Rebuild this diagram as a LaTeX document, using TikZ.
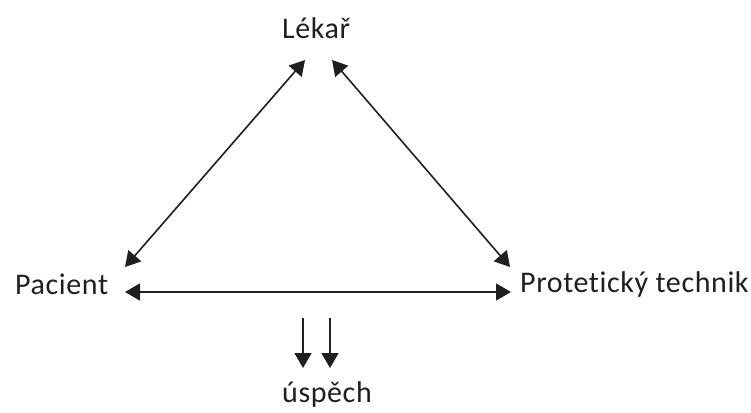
\documentclass[tikz,border=0pt]{standalone}
\usepackage{fontspec}
\setmainfont{Carlito}[Ligatures={NoCommon}, LetterSpace=2.0]
\usetikzlibrary{arrows.meta}
\definecolor{ink}{gray}{0.12}
\tikzset{
  label/.style={inner sep=0pt, text=ink, font=\fontsize{30}{36}\selectfont},
  link/.style={draw=ink, line width=1.6pt, {Triangle[length=15pt,width=17pt]}-{Triangle[length=15pt,width=17pt]}},
  flow/.style={draw=ink, line width=1.6pt, -{Triangle[length=15pt,width=17pt]}}
}
\begin{document}
\begin{tikzpicture}[x=1pt, y=-1pt]
  \useasboundingbox (0,0) rectangle (751,412);

  % the three parties
  \node[label, anchor=base west] (lekar) at (282,39) {Lékař};
  \node[label, anchor=base west] (pacient) at (15,294) {Pacient};
  \node[label, anchor=base west] (technik) at (520,292) {Protetický technik};
  \node[label, anchor=base west] (uspech) at (282,402) {úspěch};

  % arrow ends around the labels
  \coordinate (lekarL) at (305,60);
  \coordinate (lekarR) at (332,60);
  \coordinate (pacientT) at (125,267);
  \coordinate (pacientR) at (125,292);
  \coordinate (technikT) at (510,267);
  \coordinate (technikL) at (511,292);
  \coordinate (downAs) at (303,318);
  \coordinate (downAe) at (303,368);
  \coordinate (downBs) at (330,318);
  \coordinate (downBe) at (330,368);

  % mutual relations
  \draw[link] (lekarL) -- (pacientT);
  \draw[link] (lekarR) -- (technikT);
  \draw[link] (pacientR) -- (technikL);

  % the outcome
  \draw[flow] (downAs) -- (downAe);
  \draw[flow] (downBs) -- (downBe);
\end{tikzpicture}
\end{document}
